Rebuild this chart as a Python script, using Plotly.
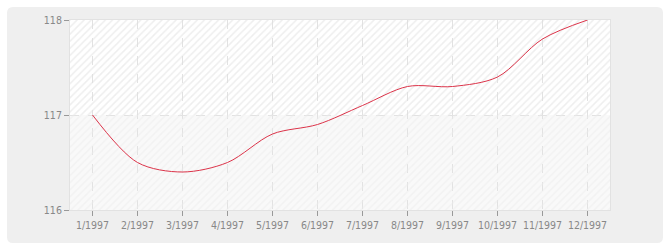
import plotly.graph_objects as go

months = ["1/1997", "2/1997", "3/1997", "4/1997", "5/1997", "6/1997",
          "7/1997", "8/1997", "9/1997", "10/1997", "11/1997", "12/1997"]
values = [117.0, 116.5, 116.4, 116.5, 116.8, 116.9,
          117.1, 117.3, 117.3, 117.4, 117.8, 118.0]
y_ticks = [116, 117, 118]

idx = list(range(len(months)))
x0, x1 = -0.5, len(months) - 0.5
y0, y1 = y_ticks[0], y_ticks[-1]

fig = go.Figure()

# hatched bands (transparent background so the grid shows)
bands = [(y_ticks[0], y_ticks[1], "#ececec"),
         (y_ticks[1], y_ticks[2], "#dedede")]
for lo, hi, fg in bands:
    fig.add_trace(go.Scatter(
        x=[x0, x1, x1, x0, x0], y=[lo, lo, hi, hi, lo],
        mode="lines", line=dict(width=0), fill="toself",
        fillcolor="rgba(0,0,0,0)",
        fillpattern=dict(shape="/", fgcolor=fg, bgcolor="rgba(0,0,0,0)",
                         size=5, solidity=0.3),
        hoverinfo="skip", showlegend=False))

fig.add_trace(go.Scatter(
    x=idx, y=values, mode="lines",
    line=dict(color="#dc3349", width=1, shape="spline", smoothing=0.9),
    showlegend=False))

W, H = 670, 250
L, R, T, B = 70, 60, 20, 40
pw, ph = W - L - R, H - T - B


def px2paper(xp, yp):
    return (xp - L) / pw, (H - B - yp) / ph


ax, ay = px2paper(7, 7)
bx, by = px2paper(663, 243)
rx, ry = 6 / pw, 6 / ph
path = (f"M {ax+rx} {ay} L {bx-rx} {ay} Q {bx} {ay} {bx} {ay-ry} "
        f"L {bx} {by+ry} Q {bx} {by} {bx-rx} {by} "
        f"L {ax+rx} {by} Q {ax} {by} {ax} {by+ry} "
        f"L {ax} {ay-ry} Q {ax} {ay} {ax+rx} {ay} Z")

fig.update_layout(
    width=W, height=H,
    margin=dict(l=L, r=R, t=T, b=B),
    paper_bgcolor="#ffffff", plot_bgcolor="#ffffff",
    font=dict(family="DejaVu Sans Condensed, DejaVu Sans", size=10.5, color="#888888"),
    shapes=[dict(type="path", xref="paper", yref="paper", path=path,
                 fillcolor="#efefef", line=dict(width=0), layer="below"),
            dict(type="rect", xref="x", yref="y", x0=x0, x1=x1,
                 y0=y_ticks[1], y1=y_ticks[2], fillcolor="#ffffff",
                 line=dict(width=0), layer="below"),
            dict(type="rect", xref="x", yref="y", x0=x0, x1=x1,
                 y0=y_ticks[0], y1=y_ticks[1], fillcolor="#f9f9f9",
                 line=dict(width=0), layer="below")],
    xaxis=dict(range=[x0, x1], tickmode="array", tickvals=idx, ticktext=months,
               showgrid=True, gridcolor="#e2e2e2", griddash="dash", gridwidth=1,
               ticks="outside", ticklen=5, tickcolor="#999999",
               showline=True, linecolor="#e2e2e2", mirror=True, zeroline=False,
               fixedrange=True),
    yaxis=dict(range=[y0, y1], tickmode="array", tickvals=y_ticks,
               ticktext=[str(v) for v in y_ticks],
               showgrid=True, gridcolor="#e2e2e2", griddash="dash", gridwidth=1,
               ticks="outside", ticklen=5, tickcolor="#999999",
               showline=True, linecolor="#e2e2e2", mirror=True, zeroline=False,
               fixedrange=True),
)

fig.write_html("out.html")
